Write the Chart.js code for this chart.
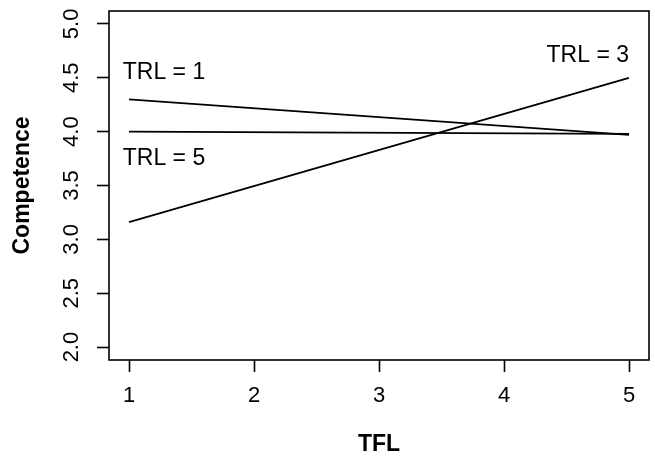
<!DOCTYPE html>
<html>
<head>
<meta charset="utf-8">
<script src="https://cdn.jsdelivr.net/npm/chart.js@4/dist/chart.umd.min.js"></script>
<style>
  html, body { margin: 0; padding: 0; background: #fff; }
  #wrap { width: 655px; height: 459px; }
</style>
</head>
<body>
<div id="wrap"><canvas id="lineChart"></canvas></div>
<script>
const tflValues = [1, 5];
const trl1Values = [4.30, 3.97];
const trl3Values = [3.16, 4.50];
const trl5Values = [4.00, 3.98];
const xTicks = [1, 2, 3, 4, 5];
const yTicks = [2.0, 2.5, 3.0, 3.5, 4.0, 4.5, 5.0];
const seriesNames = ["TRL = 1", "TRL = 3", "TRL = 5"];

const fontFamily = "'Liberation Sans', Arial, Helvetica, sans-serif";

let toPoints = (values) => tflValues.map((x, i) => ({ x: x, y: values[i] }));

// where the "TRL = n" text sits, in data units
const labelSpots = [
  { x: 0.95, y: 4.49, align: "left" },
  { x: 5.0, y: 4.65, align: "right" },
  { x: 0.95, y: 3.69, align: "left" },
];

const rPlotPlugin = {
  id: "rPlot",
  afterDraw(chart) {
    const ctx = chart.ctx;
    const area = chart.chartArea;
    const xScale = chart.scales.x;
    const yScale = chart.scales.y;
    ctx.save();
    ctx.strokeStyle = "#000";
    ctx.lineWidth = 1.6;
    ctx.strokeRect(area.left, area.top, area.right - area.left, area.bottom - area.top);

    // vertical y tick labels like R
    ctx.fillStyle = "#000";
    ctx.font = "22px " + fontFamily;
    ctx.textAlign = "center";
    ctx.textBaseline = "middle";
    yScale.ticks.forEach((t) => {
      const py = yScale.getPixelForValue(t.value);
      ctx.save();
      ctx.translate(72, py);
      ctx.rotate(-Math.PI / 2);
      ctx.fillText(t.value.toFixed(1), 0, 0);
      ctx.restore();
    });

    ctx.font = "23px " + fontFamily;
    ctx.textBaseline = "alphabetic";
    seriesNames.forEach((name, i) => {
      const spot = labelSpots[i];
      ctx.textAlign = spot.align;
      ctx.fillText(name, xScale.getPixelForValue(spot.x), yScale.getPixelForValue(spot.y));
    });
    ctx.restore();
  },
};

function buildChart() {
  const lineStyle = {
    borderColor: "#000",
    borderWidth: 1.8,
    pointRadius: 0,
    fill: false,
    tension: 0,
  };
  new Chart(document.getElementById("lineChart").getContext("2d"), {
    type: "line",
    data: {
      datasets: [
        Object.assign({ label: seriesNames[0], data: toPoints(trl1Values) }, lineStyle),
        Object.assign({ label: seriesNames[1], data: toPoints(trl3Values) }, lineStyle),
        Object.assign({ label: seriesNames[2], data: toPoints(trl5Values) }, lineStyle),
      ],
    },
    options: {
      responsive: true,
      maintainAspectRatio: false,
      animation: false,
      layout: { padding: { top: 11, right: 6, left: 0, bottom: 0 } },
      plugins: {
        legend: { display: false },
        tooltip: { enabled: false },
      },
      scales: {
        x: {
          type: "linear",
          min: 0.84,
          max: 5.16,
          afterBuildTicks: (scale) => {
            scale.ticks = xTicks.map((v) => ({ value: v }));
          },
          afterFit: (scale) => {
            scale.height = 99;
          },
          border: { display: false },
          grid: {
            drawOnChartArea: false,
            drawTicks: true,
            tickLength: 12,
            tickWidth: 1.6,
            tickColor: "#000",
          },
          ticks: {
            color: "#000",
            font: { family: fontFamily, size: 22 },
            padding: 11,
            maxRotation: 0,
            autoSkip: false,
          },
          title: {
            display: true,
            text: "TFL",
            color: "#000",
            font: { family: fontFamily, size: 23, weight: "bold" },
            padding: { top: 0, bottom: 1 },
          },
        },
        y: {
          type: "linear",
          min: 1.88,
          max: 5.12,
          afterBuildTicks: (scale) => {
            scale.ticks = yTicks.map((v) => ({ value: v }));
          },
          afterFit: (scale) => {
            scale.width = 109;
          },
          border: { display: false },
          grid: {
            drawOnChartArea: false,
            drawTicks: true,
            tickLength: 12,
            tickWidth: 1.6,
            tickColor: "#000",
          },
          ticks: { display: false },
          title: {
            display: true,
            text: "Competence",
            color: "#000",
            font: { family: fontFamily, size: 23, weight: "bold" },
            padding: { top: 9, bottom: 0 },
          },
        },
      },
    },
    plugins: [rPlotPlugin],
  });
}

buildChart();
</script>
</body>
</html>
